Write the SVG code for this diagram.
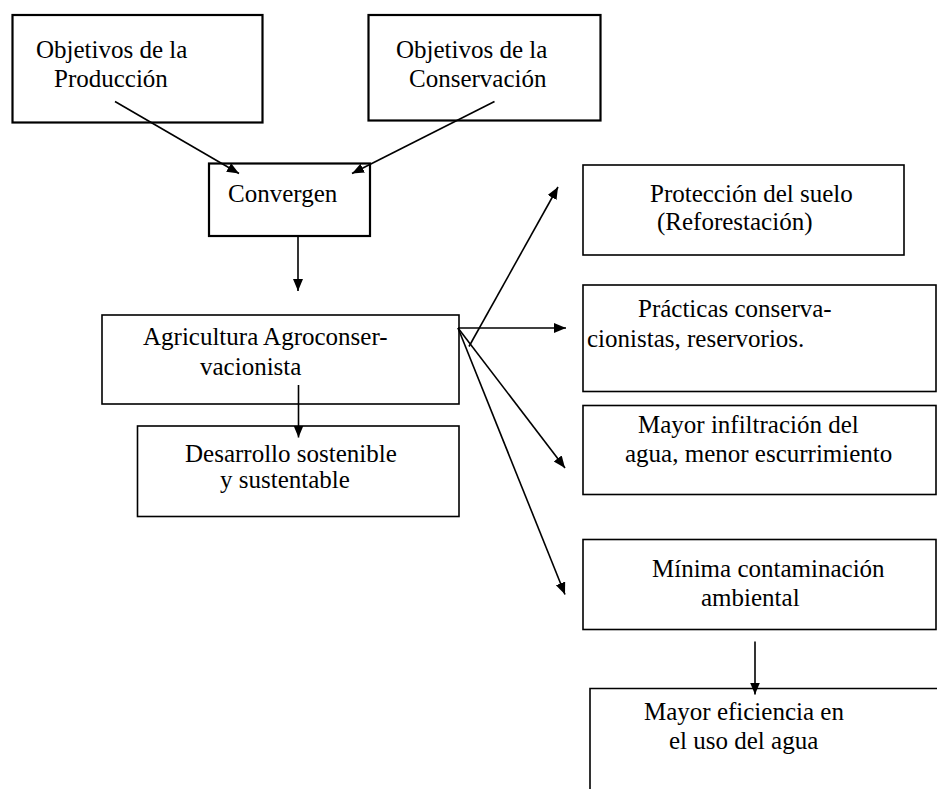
<svg xmlns="http://www.w3.org/2000/svg" width="937" height="789" viewBox="0 0 937 789">
<style>
text{font-family:'Liberation Serif','Times New Roman','DejaVu Serif',serif;font-size:25px;fill:#000}
.b{fill:#fff;stroke:#000;stroke-width:1.6}
.bt{fill:#fff;stroke:#000;stroke-width:2.2}
.c{stroke:#000;stroke-width:1.6;fill:none;marker-end:url(#ah)}
</style>
<defs>
<marker id="ah" markerUnits="userSpaceOnUse" markerWidth="14" markerHeight="12" refX="12" refY="5" orient="auto">
<path d="M0,0 L12,5 L0,10 Z" fill="#000"/>
</marker>
</defs>
<rect width="937" height="789" fill="#fff"/>
<g font-family="Liberation Serif, serif">
<g id="prod"><rect class="bt" x="12.5" y="15" width="250" height="107.5"/><text x="36" y="58">Objetivos de la</text><text x="54" y="87">Producción</text></g>
<g id="cons"><rect class="bt" x="368.5" y="15" width="232" height="105.5"/><text x="396" y="58">Objetivos de la</text><text x="409" y="87">Conservación</text></g>
<g id="conv"><rect class="bt" x="209" y="163.5" width="161" height="72.5"/><text x="228" y="202">Convergen</text></g>
<g id="agri"><rect class="b" x="102" y="315" width="357" height="89"/><text x="143" y="345">Agricultura Agroconser-</text><text x="200" y="375">vacionista</text></g>
<g id="desa"><rect class="b" x="137.5" y="426" width="321.5" height="90.5"/><text x="185" y="462">Desarrollo sostenible</text><text x="220" y="488">y sustentable</text></g>
<g id="prot"><rect class="b" x="583" y="165" width="321" height="90"/><text x="650" y="202">Protección del suelo</text><text x="657" y="230">(Reforestación)</text></g>
<g id="prac"><rect class="b" x="583" y="285" width="353" height="106.5"/><text x="638" y="317">Prácticas conserva-</text><text x="587" y="347">cionistas, reservorios.</text></g>
<g id="infi"><rect class="b" x="583" y="405.5" width="353" height="89"/><text x="638" y="433">Mayor infiltración del</text><text x="625" y="462">agua, menor escurrimiento</text></g>
<g id="mini"><rect class="b" x="583" y="539.5" width="353" height="90"/><text x="652" y="577">Mínima contaminación</text><text x="701" y="606">ambiental</text></g>
<g id="efic"><path class="b" d="M590,789 V688.5 H937" fill="none"/><text x="644" y="720">Mayor eficiencia en</text><text x="669" y="749">el uso del agua</text></g>
</g>
<g id="connectors">
<line class="c" x1="115" y1="101.5" x2="239" y2="173.5"/>
<line class="c" x1="494.5" y1="101.5" x2="352" y2="173.5"/>
<line class="c" x1="298" y1="237" x2="298" y2="291"/>
<line class="c" x1="298.5" y1="385" x2="298.5" y2="437.5"/>
<line class="c" x1="469" y1="346.5" x2="558" y2="187"/>
<line class="c" x1="458" y1="328" x2="566" y2="328"/>
<line class="c" x1="458" y1="328" x2="565" y2="468"/>
<line class="c" x1="458" y1="328" x2="565" y2="594.5"/>
<line class="c" x1="755" y1="641.5" x2="755" y2="694.5"/>
</g>
</svg>
